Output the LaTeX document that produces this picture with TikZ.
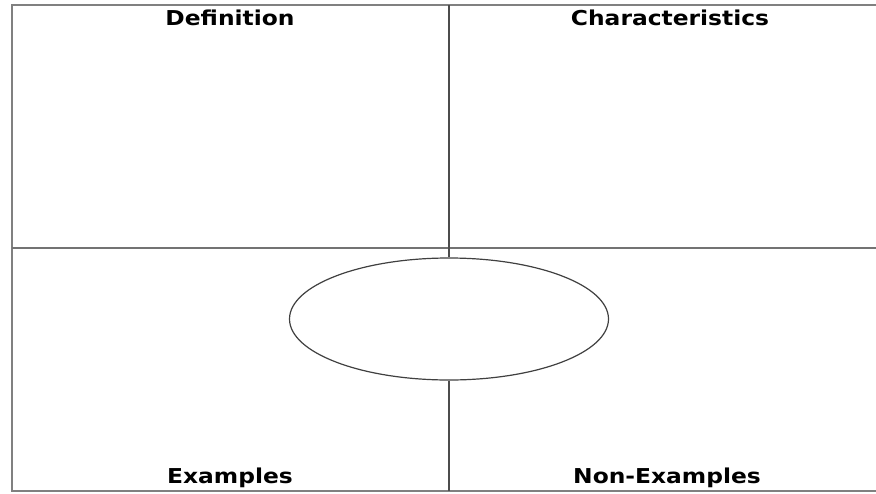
\documentclass[tikz,border=0pt]{standalone}
\usepackage{fontspec}
\setmainfont{DejaVu Sans}
\usetikzlibrary{shapes.geometric}

\begin{document}
\begin{tikzpicture}[
    x=1pt, y=-1pt,
    label/.style={font=\fontsize{20.5}{22}\selectfont\bfseries, xscale=1.14, inner sep=0pt},
    frame/.style={draw=black!50, line width=1.8pt},
    midline/.style={draw=black!55, line width=1.2pt},
    axis/.style={draw=black!70, line width=2.6pt},
    hub/.style={draw=black!75, line width=1.2pt, ellipse, minimum width=319pt, minimum height=122pt, fill=white}
]
\useasboundingbox (0,0) rectangle (876,493);

% frame and quadrant lines
\coordinate (tl) at (12,5);
\coordinate (tr) at (876,5);
\coordinate (bl) at (12,491);
\coordinate (br) at (876,491);
\coordinate (ml) at (12,248);
\coordinate (mr) at (876,248);
\coordinate (top) at (449,5);
\coordinate (bot) at (449,491);

\draw[frame] (tr) -- (tl) -- (bl) -- (br);
\draw[midline] (ml) -- (mr);

\node[hub] (concept) at (449,319) {};
\draw[axis] (top) -- (concept.north);
\draw[axis] (concept.south) -- (bot);

\node[label] (definition) at (230,18) {Definition};
\node[label] (characteristics) at (670,18) {Characteristics};
\node[label] (examples) at (230,478) {Examples};
\node[label] (nonexamples) at (667,478) {Non-Examples};

\end{tikzpicture}
\end{document}
